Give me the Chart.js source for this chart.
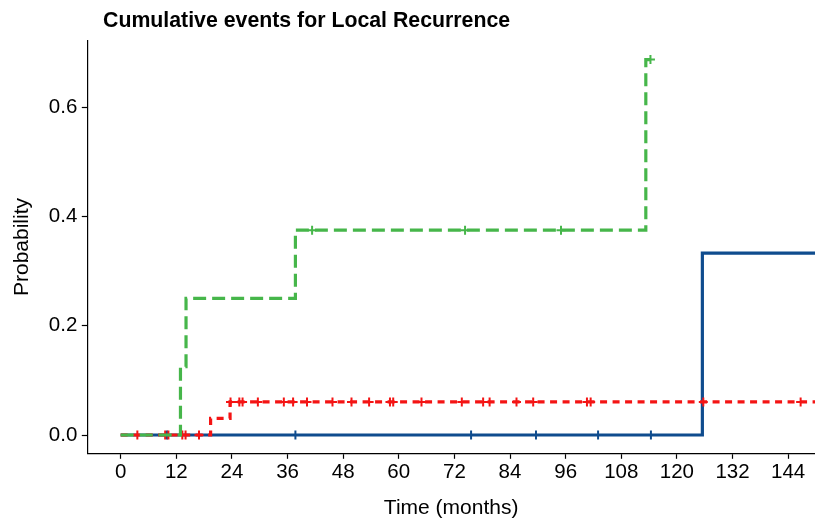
<!DOCTYPE html>
<html>
<head>
<meta charset="utf-8">
<title>Cumulative events for Local Recurrence</title>
<script src="https://cdn.jsdelivr.net/npm/chart.js@4/dist/chart.umd.min.js"></script>
<style>
  html, body { margin: 0; padding: 0; background: #ffffff; }
  #chart { display: block; }
</style>
</head>
<body>
<canvas id="chart" width="815" height="521"></canvas>
<script>
// x axis ticks (months) and y axis ticks (probability)
const xTicks = [0, 12, 24, 36, 48, 60, 72, 84, 96, 108, 120, 132, 144];
const yTicks = [0, 0.2, 0.4, 0.6];

// Blue group (solid line): event times and cumulative incidence
const blueTimes = [0, 125.5, 153];
const blueCum = [0, 0.333, 0.333];
const blueCensor = [10.0, 37.7, 75.6, 89.6, 103.0, 114.4];

// Red group (short dashes)
const redTimes = [0, 19.4, 23.6, 153];
const redCum = [0, 0.0303, 0.0606, 0.0606];
const redCensor = [3.6, 9.6, 10.3, 13.3, 14.0, 16.9, 23.7, 25.6, 26.3, 29.6, 35.2, 37.2,
    40.2, 45.7, 49.8, 53.6, 58.1, 58.8, 64.9, 73.6, 78.2, 79.6, 85.4, 89.0,
    100.6, 101.4, 125.7, 146.7];

// Green group (long dashes)
const greenTimes = [0, 12.9, 14.1, 37.7, 113.3, 114.3];
const greenCum = [0, 0.125, 0.25, 0.375, 0.6875, 0.6875];
const greenCensor = [41.3, 74.3, 95.0, 114.3];

const FONT = '"Liberation Sans", Arial, Helvetica, sans-serif';

// value of a step curve at time t (used to put censor marks on the curve)
function cumAt(times, cum, t) {
    let v = cum[0];
    for (let i = 0; i < times.length; i++) {
        if (times[i] <= t) v = cum[i];
    }
    return v;
}

function stepLine(times, cum, color, dash, order) {
    return {
        data: times.map((t, i) => ({ x: t, y: cum[i] })),
        showLine: true,
        stepped: true,
        borderColor: color,
        borderWidth: 3.2,
        borderDash: dash,
        borderCapStyle: 'butt',
        pointRadius: 0,
        fill: false,
        order: order
    };
}

function censorMarks(censor, times, cum, color, order) {
    return {
        data: censor.map(t => ({ x: t, y: cumAt(times, cum, t) })),
        showLine: false,
        pointStyle: 'cross',
        pointRadius: 4.5,
        pointBorderWidth: 2,
        borderColor: color,
        backgroundColor: color,
        order: order
    };
}

const BLUE = '#0f4c8e';
const RED = '#f41414';
const GREEN = '#46b64a';

// no extra space for overhanging tick labels: panel edges are fixed
function fixPadding(s) {
    s.paddingLeft = 0;
    s.paddingRight = 0;
    s.paddingTop = 0;
    s.paddingBottom = 0;
}

// draws the plot title above the panel
const titlePlugin = {
    id: 'plotTitle',
    afterDraw(chart) {
        const ctx = chart.ctx;
        ctx.save();
        ctx.font = 'bold 21.3px ' + FONT;
        ctx.fillStyle = '#000000';
        ctx.textAlign = 'left';
        ctx.textBaseline = 'alphabetic';
        ctx.fillText('Cumulative events for Local Recurrence', 103, 26.7);
        ctx.restore();
    }
};

new Chart(document.getElementById('chart'), {
    type: 'scatter',
    data: {
        datasets: [
            censorMarks(greenCensor, greenTimes, greenCum, GREEN, 0),
            stepLine(greenTimes, greenCum, GREEN, [13, 6], 1),
            censorMarks(redCensor, redTimes, redCum, RED, 2),
            stepLine(redTimes, redCum, RED, [7, 5.5], 3),
            censorMarks(blueCensor, blueTimes, blueCum, BLUE, 4),
            stepLine(blueTimes, blueCum, BLUE, [], 5)
        ]
    },
    options: {
        responsive: false,
        animation: false,
        devicePixelRatio: 1,
        layout: { autoPadding: false, padding: { top: 40.7, right: 0, bottom: 0, left: 0 } },
        plugins: {
            legend: { display: false },
            tooltip: { enabled: false }
        },
        scales: {
            x: {
                type: 'linear',
                min: -7.2,
                max: 149.8,
                afterBuildTicks: s => { s.ticks = xTicks.map(v => ({ value: v })); },
                afterFit: s => { s.height = 67.7; fixPadding(s); },
                border: { display: true, color: '#000000', width: 1.2 },
                grid: { drawOnChartArea: false, drawTicks: true, tickLength: 5.5, color: '#000000', tickWidth: 1.2 },
                ticks: {
                    color: '#000000',
                    padding: 1,
                    maxRotation: 0,
                    autoSkip: false,
                    font: { family: FONT, size: 20.5 }
                },
                title: {
                    display: true,
                    text: 'Time (months)',
                    color: '#000000',
                    padding: { top: 0, bottom: 0 },
                    font: { family: FONT, size: 21 }
                }
            },
            y: {
                type: 'linear',
                min: -0.0335,
                max: 0.722,
                afterBuildTicks: s => { s.ticks = yTicks.map(v => ({ value: v })); },
                afterFit: s => { s.width = 87.3; fixPadding(s); },
                border: { display: true, color: '#000000', width: 1.2 },
                grid: { drawOnChartArea: false, drawTicks: true, tickLength: 5.5, color: '#000000', tickWidth: 1.2 },
                ticks: {
                    color: '#000000',
                    padding: 4.5,
                    font: { family: FONT, size: 20.5 },
                    callback: v => v.toFixed(1)
                },
                title: {
                    display: true,
                    text: 'Probability',
                    color: '#000000',
                    padding: { top: 9.5, bottom: 0 },
                    font: { family: FONT, size: 21 }
                }
            }
        }
    },
    plugins: [titlePlugin]
});
</script>
</body>
</html>
